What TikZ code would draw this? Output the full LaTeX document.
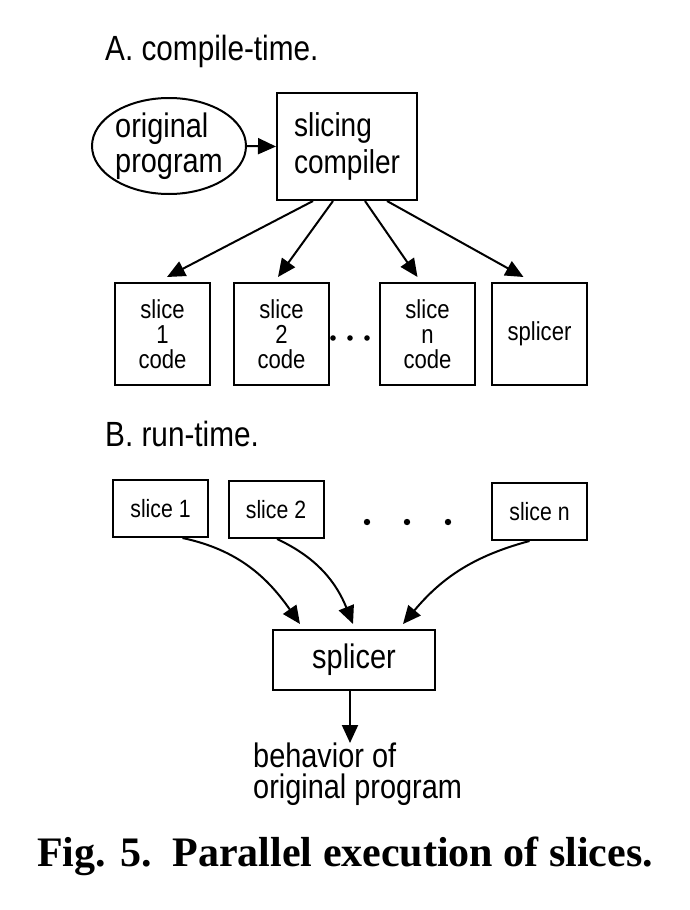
\documentclass[tikz,border=0pt]{standalone}
\usepackage{fontspec}
\setmainfont{Liberation Serif}
\newfontfamily\drawfont[FakeStretch=0.85]{Liberation Sans}
\usetikzlibrary{arrows.meta,shapes.geometric}

\tikzset{
  box/.style={draw, line width=2pt, minimum width=95pt, minimum height=102pt, inner sep=0pt},
  rbox/.style={draw, line width=2pt, minimum width=95pt, minimum height=57pt, inner sep=0pt},
  arr/.style={line width=2pt, -{Triangle[length=18pt,width=16pt]}},
}

\begin{document}
\begin{tikzpicture}[x=1pt,y=-1pt]
  \useasboundingbox (0,0) rectangle (690,910);

  % A. compile-time
  \node[anchor=base west, inner sep=0pt, font=\drawfont\fontsize{35}{35}\selectfont] (ttla) at (105,60) {A. compile-time.};
  \node[draw, line width=2pt, ellipse, minimum width=154pt, minimum height=96pt, inner sep=0pt,
        align=left, font=\drawfont\fontsize{34}{35}\selectfont] (orig) at (169,146) {original\\program};
  \node[draw, line width=2pt, minimum width=140pt, minimum height=107pt, inner sep=0pt,
        align=left, font=\drawfont\fontsize{33}{37}\selectfont] (comp) at (347,146.5) {slicing\\compiler};
  \draw[arr] (orig.east) -- (comp.west);

  \node[box, align=center, font=\drawfont\fontsize{26}{25}\selectfont] (b1) at (162.5,334) {slice\\1\\code};
  \node[box, align=center, font=\drawfont\fontsize{26}{25}\selectfont] (b2) at (281.5,334) {slice\\2\\code};
  \node[box, align=center, font=\drawfont\fontsize{26}{25}\selectfont] (b3) at (427.5,334) {slice\\n\\code};
  \node[box, font=\drawfont\fontsize{26}{25}\selectfont] (b4) at (539.5,334) {splicer};
  \foreach \x in {333,350,367}
    \fill (\x,338) circle (2.8pt);

  \foreach \s/\b/\t in {-34/b1/4.5, -14/b2/-3.5, 18/b3/-10, 40/b4/-16}
    \draw[arr] ([xshift=\s pt]comp.south) -- ([xshift=\t pt,yshift=5pt]\b.north);

  % B. run-time
  \node[anchor=base west, inner sep=0pt, font=\drawfont\fontsize{35}{35}\selectfont] (ttlb) at (105,446) {B. run-time.};
  \node[rbox, font=\drawfont\fontsize{25}{25}\selectfont] (s1) at (160.5,508.5) {slice 1};
  \node[rbox, font=\drawfont\fontsize{25}{25}\selectfont] (s2) at (276,509.5) {slice 2};
  \node[rbox, font=\drawfont\fontsize{25}{25}\selectfont] (sn) at (539.5,511.5) {slice n};
  \foreach \x in {367,407,448}
    \fill (\x,522) circle (3.2pt);

  \node[draw, line width=2pt, minimum width=162pt, minimum height=60pt, inner sep=0pt,
        font=\drawfont\fontsize{34}{34}\selectfont] (spl) at (354,660) {splicer};
  \draw[arr] ([xshift=22pt]s1.south) to[out=-12,in=125] ([xshift=-54pt,yshift=5pt]spl.north);
  \draw[arr] ([xshift=1pt]s2.south) to[out=-25,in=112] ([xshift=-1pt,yshift=5pt]spl.north);
  \draw[arr] ([xshift=-10pt]sn.south) to[out=195,in=50] ([xshift=49pt,yshift=5pt]spl.north);

  \node[anchor=north west, inner sep=0pt, align=left, font=\drawfont\fontsize{34}{31}\selectfont] (beh) at (253,743) {behavior of\\original program};
  \draw[arr] ([xshift=-4pt]spl.south) -- ([xshift=-4pt]spl.south |- beh.north);

  \node[anchor=base west, inner sep=0pt, font=\bfseries\fontsize{42}{42}\selectfont] (cap) at (37,866) {Fig. 5.\enspace Parallel execution of slices.};
\end{tikzpicture}
\end{document}
